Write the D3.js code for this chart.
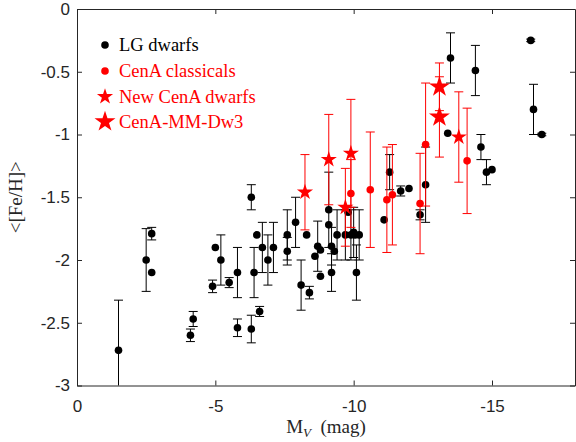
<!DOCTYPE html>
<html>
<head>
<meta charset="utf-8">
<script src="https://cdn.jsdelivr.net/npm/d3@7"></script>
<style>
  body { margin: 0; background: #fff; }
  svg { display: block; }
  .axis path, .axis line { stroke: #262626; }
  .axis text { fill: #262626; font-family: "Liberation Sans", Arial, sans-serif; font-size: 17px; }
  .serif { font-family: "Liberation Serif", "Times New Roman", serif; }
</style>
</head>
<body>
<div id="chart"></div>
<script>
// Local Group dwarfs: M_V, <[Fe/H]>, error
const lgMag = [-1.5, -2.5, -2.7, -2.7, -4.1, -4.2, -4.9, -5.0, -5.2, -5.5, -5.8, -5.8, -6.3, -6.6, -6.3,
  -6.4, -6.5, -6.7, -6.9, -7.1, -7.6, -7.6, -7.9, -8.1, -8.4, -8.3, -8.7, -8.6, -8.8, -8.8,
  -9.1, -9.1, -9.2, -9.3, -9.2, -9.4, -9.7, -9.8, -9.9, -10.0, -10.05, -10.2, -10.1,
  -11.1, -11.3, -11.7, -12.0, -12.4, -12.6, -13.4, -13.5, -14.4, -14.6, -14.8, -15.0, -16.4, -16.5, -16.8];
const lgFeh = [-2.72, -2.00, -1.79, -2.10, -2.60, -2.47, -2.21, -1.90, -2.00, -2.18, -2.10, -2.54, -2.55, -2.41, -1.50,
  -2.10, -1.80, -1.90, -2.00, -1.90, -1.80, -1.93, -1.70, -2.20, -2.26, -1.80, -1.89, -1.97, -1.92, -2.13,
  -1.60, -1.72, -1.89, -1.93, -2.10, -1.80, -1.80, -1.62, -1.80, -1.78, -1.80, -1.80, -2.10,
  -1.68, -1.30, -1.45, -1.43, -1.64, -1.40, -0.99, -0.39, -0.49, -1.10, -1.30, -1.28, -0.25, -0.80, -1.00];
const lgErr = [0.40, 0.25, 0.05, 0, 0.05, 0.06, 0.05, 0, 0.20, 0.04, 0.20, 0.07, 0.11, 0.04, 0.10,
  0.20, 0, 0.20, 0.20, 0.20, 0.20, 0.11, 0.20, 0.20, 0.05, 0, 0.20, 0, 0, 0,
  0.30, 0, 0.15, 0, 0.15, 0.20, 0.20, 0, 0.20, 0.20, 0, 0.20, 0.22,
  0, 0.14, 0.04, 0, 0.04, 0.30, 0, 0.20, 0.20, 0.10, 0.10, 0, 0.01, 0.20, 0.01];

// CenA classical dwarfs
const caMag = [-9.9, -10.6, -11.2, -11.4, -12.4, -12.6, -14.1];
const caFeh = [-1.47, -1.44, -1.52, -1.48, -1.55, -1.08, -1.21];
const caErr = [0.27, 0.46, 0.42, 0.40, 0.40, 0.49, 0.42];

// new CenA dwarfs
const newMag = [-8.24, -9.1, -9.9, -9.7, -13.8];
const newFeh = [-1.46, -1.20, -1.15, -1.58, -1.02];
const newErr = [0.30, 0.36, 0.43, 0.31, 0.36];

// CenA-MM-Dw3
const dw3Mag = [-13.1, -13.1];
const dw3Feh = [-0.62, -0.86];
const dw3Err = [0.19, 0.32];

const xTicks = [0, -5, -10, -15];
const yTicks = [0, -0.5, -1, -1.5, -2, -2.5, -3];

const legendLabels = ["LG dwarfs", "CenA classicals", "New CenA dwarfs", "CenA-MM-Dw3"];

const width = 576, height = 442;
const plot = {left: 77, right: 575, top: 9, bottom: 385.5};

const svg = d3.select("#chart").append("svg")
    .attr("width", width)
    .attr("height", height);

const x = d3.scaleLinear().domain([0, -18]).range([plot.left, plot.right]);
const y = d3.scaleLinear().domain([0, -3]).range([plot.top, plot.bottom]);

const fmt = d => String(d);

svg.append("clipPath").attr("id", "clip").append("rect")
    .attr("x", plot.left).attr("y", plot.top)
    .attr("width", plot.right - plot.left).attr("height", plot.bottom - plot.top);

const cap = 4.5;

function drawErrors(mags, fehs, errs, color) {
    const g = svg.append("g").attr("clip-path", "url(#clip)")
        .attr("stroke", color).attr("stroke-width", 1).attr("fill", "none");
    mags.forEach((m, i) => {
        if (!errs[i]) return;
        const cx = x(m), y0 = y(fehs[i] + errs[i]), y1 = y(fehs[i] - errs[i]);
        g.append("line").attr("x1", cx).attr("x2", cx).attr("y1", y0).attr("y2", y1);
        g.append("line").attr("x1", cx - cap).attr("x2", cx + cap).attr("y1", y0).attr("y2", y0);
        g.append("line").attr("x1", cx - cap).attr("x2", cx + cap).attr("y1", y1).attr("y2", y1);
    });
}

function drawDots(mags, fehs, color) {
    svg.append("g").selectAll("circle")
        .data(mags)
        .enter().append("circle")
        .attr("cx", d => x(d))
        .attr("cy", (d, i) => y(fehs[i]))
        .attr("r", 3.8)
        .attr("fill", color);
}

const starSmall = d3.symbol(d3.symbolStar).size(8.5 * 8.5 / 0.8908);
const starBig = d3.symbol(d3.symbolStar).size(11 * 11 / 0.8908);

function drawStars(mags, fehs, sym) {
    svg.append("g").selectAll("path")
        .data(mags)
        .enter().append("path")
        .attr("d", sym)
        .attr("transform", (d, i) => "translate(" + x(d) + "," + y(fehs[i]) + ")")
        .attr("fill", "#ff0000");
}

drawErrors(lgMag, lgFeh, lgErr, "#000");
drawDots(lgMag, lgFeh, "#000");
drawErrors(caMag, caFeh, caErr, "#ff0000");
drawDots(caMag, caFeh, "#ff0000");
drawErrors(newMag, newFeh, newErr, "#ff0000");
drawErrors(dw3Mag, dw3Feh, dw3Err, "#ff0000");
drawStars(newMag, newFeh, starSmall);
drawStars(dw3Mag, dw3Feh, starBig);

// axes (box with inward ticks)
svg.append("g").attr("class", "axis")
    .attr("transform", "translate(0," + plot.bottom + ")")
    .call(d3.axisBottom(x).tickValues(xTicks).tickFormat(fmt).tickSizeInner(-5).tickSizeOuter(0).tickPadding(14));
svg.append("g").attr("class", "axis")
    .attr("transform", "translate(0," + plot.top + ")")
    .call(d3.axisTop(x).tickValues(xTicks).tickFormat("").tickSizeInner(-5).tickSizeOuter(0));
svg.append("g").attr("class", "axis")
    .attr("transform", "translate(" + plot.left + ",0)")
    .call(d3.axisLeft(y).tickValues(yTicks).tickFormat(fmt).tickSizeInner(-5).tickSizeOuter(0).tickPadding(7));
svg.append("g").attr("class", "axis")
    .attr("transform", "translate(" + plot.right + ",0)")
    .call(d3.axisRight(y).tickValues(yTicks).tickFormat("").tickSizeInner(-5).tickSizeOuter(0));

// legend
const legY = [45, 71, 96.7, 121.7];
const legColor = ["#000", "#ff0000", "#ff0000", "#ff0000"];
const leg = svg.append("g");
leg.append("circle").attr("cx", 105).attr("cy", legY[0]).attr("r", 3.8).attr("fill", "#000");
leg.append("circle").attr("cx", 105).attr("cy", legY[1]).attr("r", 3.8).attr("fill", "#ff0000");
leg.append("path").attr("d", starSmall).attr("transform", "translate(105," + legY[2] + ")").attr("fill", "#ff0000");
leg.append("path").attr("d", starBig).attr("transform", "translate(105," + legY[3] + ")").attr("fill", "#ff0000");
leg.selectAll("text")
    .data(legendLabels)
    .enter().append("text")
    .attr("class", "serif")
    .attr("x", 119)
    .attr("y", (d, i) => legY[i])
    .attr("dy", "0.33em")
    .attr("font-size", "18.5px")
    .attr("fill", (d, i) => legColor[i])
    .text(d => d);

// axis labels
svg.append("text")
    .attr("class", "serif")
    .attr("transform", "translate(22," + (plot.top + plot.bottom) / 2 + ") rotate(-90)")
    .attr("text-anchor", "middle")
    .attr("font-size", "19px")
    .attr("fill", "#262626")
    .text("<[Fe/H]>");

const xl = svg.append("text")
    .attr("class", "serif")
    .attr("x", (plot.left + plot.right) / 2)
    .attr("y", 433)
    .attr("text-anchor", "middle")
    .attr("font-size", "19px")
    .attr("fill", "#262626");
xl.append("tspan").text("M");
xl.append("tspan").attr("font-style", "italic").attr("font-size", "13px").attr("dy", 4).text("V");
xl.append("tspan").attr("dy", -4).text("\u2002(mag)");
</script>
</body>
</html>
